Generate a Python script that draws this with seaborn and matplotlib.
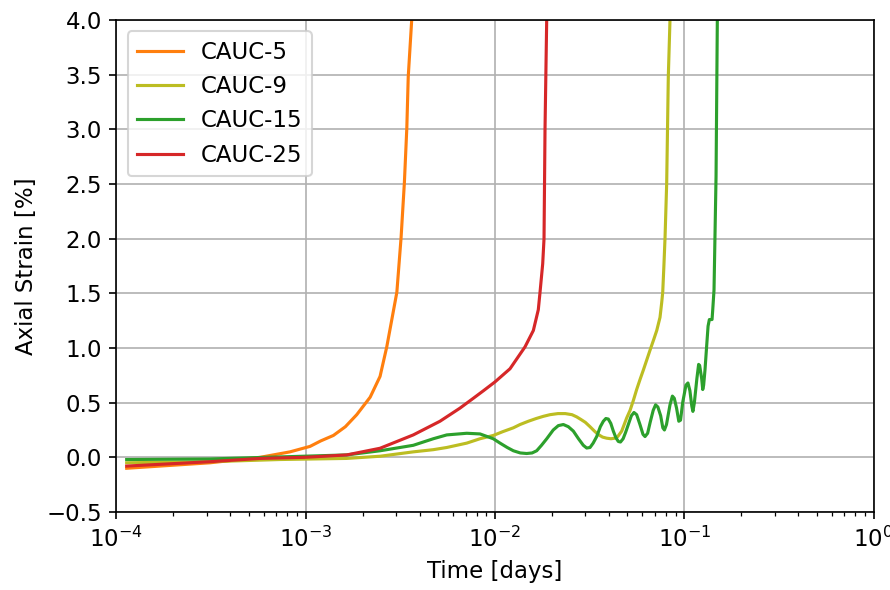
import numpy as np
import pandas as pd
import matplotlib
matplotlib.use("Agg")
import matplotlib.pyplot as plt
import seaborn as sns

plt.rcParams["font.size"] = 11

# Creep tests: time [days] vs axial strain [%]
labels = ["CAUC-5", "CAUC-9", "CAUC-15", "CAUC-25"]
colors = ["#ff7f0e", "#bcbd22", "#2ca02c", "#d62728"]

t_cauc5 = [1.133e-4, 3.12e-4, 5.74e-4, 8.26e-4, 1.054e-3, 1.2e-3, 1.40e-3, 1.62e-3,
           1.86e-3, 2.19e-3, 2.47e-3, 2.68e-3, 2.85e-3, 3.03e-3, 3.19e-3, 3.32e-3,
           3.42e-3, 3.48e-3, 3.63e-3, 3.70e-3]
e_cauc5 = [-0.10, -0.05, 0.00, 0.05, 0.10, 0.15, 0.20, 0.28,
           0.39, 0.55, 0.74, 1.01, 1.26, 1.51, 2.01, 2.51,
           3.01, 3.48, 4.00, 4.50]

t_cauc9 = [1.133e-4, 3.12e-4, 7.31e-4, 1.647e-3, 2.47e-3, 3.70e-3, 4.72e-3, 5.56e-3,
           7.09e-3, 8.33e-3, 9.79e-3, 1.1e-2, 1.25e-2, 1.356e-2, 1.5e-2, 1.65e-2,
           1.8e-2, 1.952e-2, 2.15e-2, 2.35e-2, 2.55e-2, 2.7e-2, 2.85e-2, 3.0e-2,
           3.176e-2, 3.35e-2, 3.5e-2, 3.7e-2, 3.89e-2, 4.1e-2, 4.3e-2, 4.45e-2,
           4.67e-2, 4.96e-2, 5.17e-2, 5.38e-2, 5.6e-2, 5.83e-2, 6.08e-2, 6.33e-2,
           6.59e-2, 6.9e-2, 7.15e-2, 7.44e-2, 7.6e-2, 7.69e-2, 7.8e-2, 7.91e-2,
           8.07e-2, 8.23e-2, 8.40e-2, 8.45e-2]
e_cauc9 = [-0.05, -0.04, -0.02, -0.01, 0.01, 0.05, 0.07, 0.09,
           0.13, 0.17, 0.20, 0.235, 0.27, 0.30, 0.33, 0.355,
           0.375, 0.39, 0.40, 0.40, 0.39, 0.37, 0.345, 0.32,
           0.28, 0.24, 0.21, 0.185, 0.175, 0.17, 0.175, 0.19,
           0.24, 0.36, 0.43, 0.52, 0.62, 0.71, 0.80, 0.89,
           0.98, 1.08, 1.16, 1.28, 1.42, 1.51, 1.75, 2.01,
           2.51, 3.48, 4.00, 4.50]

t_cauc15 = [1.133e-4, 3.12e-4, 9.71e-4, 1.647e-3, 2.47e-3, 3.15e-3, 3.70e-3, 4.72e-3,
            5.56e-3, 7.09e-3, 8.33e-3, 9.79e-3, 1.063e-2, 1.16e-2, 1.25e-2, 1.36e-2,
            1.47e-2, 1.57e-2, 1.66e-2, 1.76e-2, 1.876e-2, 2.03e-2, 2.16e-2, 2.296e-2,
            2.44e-2, 2.592e-2, 2.76e-2, 2.927e-2, 3.05e-2, 3.176e-2, 3.30e-2, 3.445e-2,
            3.6e-2, 3.734e-2, 3.85e-2, 3.967e-2, 4.09e-2, 4.216e-2, 4.35e-2, 4.48e-2,
            4.6e-2, 4.75e-2, 4.9e-2, 5.06e-2, 5.25e-2, 5.42e-2, 5.6e-2, 5.83e-2,
            6.05e-2, 6.2e-2, 6.4e-2, 6.6e-2, 6.85e-2, 7.05e-2, 7.25e-2, 7.5e-2,
            7.7e-2, 7.85e-2, 8.05e-2, 8.4e-2, 8.65e-2, 8.85e-2, 9.1e-2, 9.35e-2,
            9.55e-2, 9.8e-2, 0.102, 0.1045, 0.107, 0.1095, 0.111, 0.113,
            0.1165, 0.119, 0.1205, 0.1235, 0.1251, 0.1265, 0.1286, 0.131,
            0.1335, 0.1356, 0.1401, 0.1413, 0.1435, 0.1471, 0.1494, 0.1507]
e_cauc15 = [-0.02, -0.015, 0.01, 0.022, 0.06, 0.09, 0.11, 0.17,
            0.205, 0.22, 0.214, 0.17, 0.13, 0.09, 0.06, 0.04,
            0.035, 0.04, 0.06, 0.11, 0.17, 0.25, 0.29, 0.30,
            0.28, 0.24, 0.17, 0.11, 0.085, 0.09, 0.13, 0.19,
            0.28, 0.33, 0.355, 0.35, 0.31, 0.24, 0.18, 0.145,
            0.14, 0.17, 0.23, 0.30, 0.38, 0.41, 0.39, 0.30,
            0.21, 0.19, 0.22, 0.32, 0.43, 0.48, 0.46, 0.38,
            0.27, 0.25, 0.30, 0.48, 0.56, 0.54, 0.45, 0.33,
            0.34, 0.50, 0.66, 0.68, 0.61, 0.47, 0.42, 0.50,
            0.72, 0.85, 0.84, 0.72, 0.62, 0.66, 0.80, 1.00,
            1.20, 1.26, 1.26, 1.35, 1.53, 2.57, 4.00, 4.50]

t_cauc25 = [1.133e-4, 3.12e-4, 5.74e-4, 9.92e-4, 1.647e-3, 2.47e-3, 3.70e-3, 5.12e-3,
            6.53e-3, 7.68e-3, 8.7e-3, 1.0e-2, 1.20e-2, 1.44e-2, 1.594e-2, 1.693e-2,
            1.729e-2, 1.786e-2, 1.815e-2, 1.837e-2, 1.875e-2, 1.89e-2]
e_cauc25 = [-0.08, -0.04, -0.01, 0.00, 0.022, 0.083, 0.205, 0.33,
            0.45, 0.54, 0.61, 0.69, 0.81, 1.01, 1.16, 1.35,
            1.51, 1.77, 2.00, 3.00, 4.00, 4.50]

series = [(t_cauc5, e_cauc5), (t_cauc9, e_cauc9), (t_cauc15, e_cauc15), (t_cauc25, e_cauc25)]
frames = [pd.DataFrame({"time": t, "strain": e, "test": lab})
          for lab, (t, e) in zip(labels, series)]
df = pd.concat(frames, ignore_index=True)

fig = plt.figure(figsize=(890 / 150, 590 / 150), dpi=150)
ax = fig.add_axes([0.1308, 0.1322, 0.8508, 0.834])

sns.lineplot(data=df, x="time", y="strain", hue="test", hue_order=labels,
             palette=dict(zip(labels, colors)), estimator=None, sort=False,
             linewidth=1.5, ax=ax)

ax.set_xscale("log")
ax.set_xlim(1e-4, 1)
ax.set_ylim(-0.5, 4.0)
ax.set_yticks(np.arange(-0.5, 4.01, 0.5))
ax.grid(True, which="major", color="#b0b0b0", linewidth=0.8)
ax.set_xlabel("Time [days]")
ax.set_ylabel("Axial Strain [%]")
ax.legend(loc="upper left", title=None)

fig.savefig("out.png", dpi=150)
